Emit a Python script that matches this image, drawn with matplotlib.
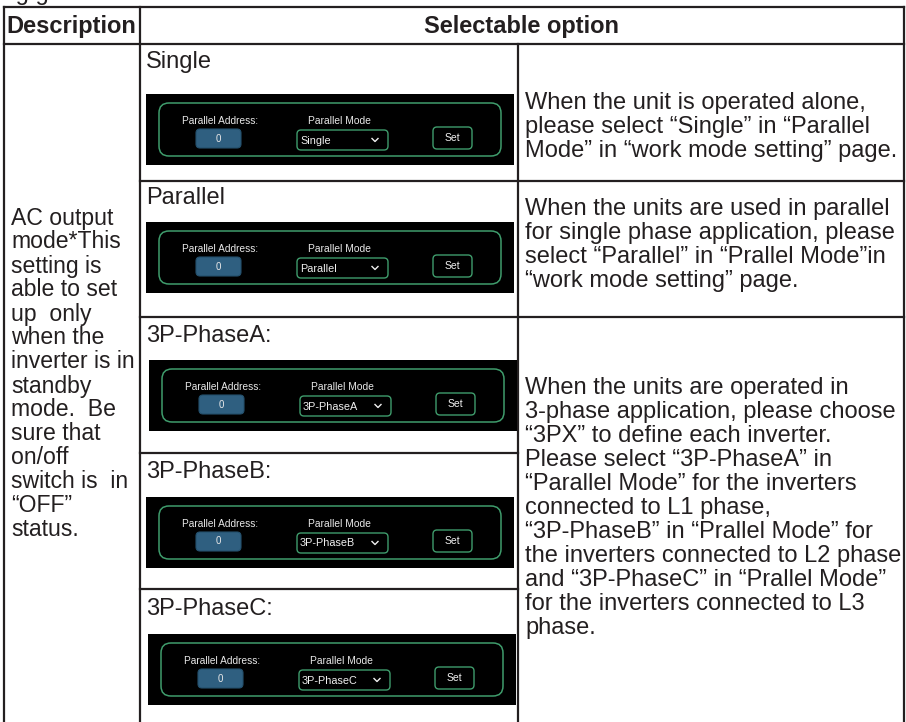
import matplotlib
matplotlib.use("Agg")
import matplotlib.pyplot as plt
from matplotlib.patches import FancyBboxPatch, Rectangle

# ---------------- data ----------------
header_left = "Description"
header_right = "Selectable option"
top_partial = "Setting guide"

desc_lines = ["AC output", "mode*This", "setting is", "able to set", "up  only",
              "when the", "inverter is in", "standby", "mode.  Be",
              "sure that", "on/off", "switch is  in", "\u201cOFF\u201d", "status."]

option_labels = ["Single", "Parallel", "3P-PhaseA:", "3P-PhaseB:", "3P-PhaseC:"]
mode_values = ["Single", "Parallel", "3P-PhaseA", "3P-PhaseB", "3P-PhaseC"]
address_values = ["0", "0", "0", "0", "0"]
widget_address_label = "Parallel Address:"
widget_mode_label = "Parallel Mode"
widget_button = "Set"

note_single = ["When the unit is operated alone,",
               "please select \u201cSingle\u201d in \u201cParallel",
               "Mode\u201d in \u201cwork mode setting\u201d page."]
note_parallel = ["When the units are used in parallel",
                 "for single phase application, please",
                 "select \u201cParallel\u201d in \u201cPrallel Mode\u201din",
                 "\u201cwork mode setting\u201d page."]
note_3phase = ["When the units are operated in",
               "3-phase application, please choose",
               "\u201c3PX\u201d to define each inverter.",
               "Please select \u201c3P-PhaseA\u201d in",
               "\u201cParallel Mode\u201d for the inverters",
               "connected to L1 phase,",
               "\u201c3P-PhaseB\u201d in \u201cPrallel Mode\u201d for",
               "the inverters connected to L2 phase",
               "and \u201c3P-PhaseC\u201d in \u201cPrallel Mode\u201d",
               "for the inverters connected to L3",
               "phase."]

# ---------------- layout ----------------
W, H = 906, 722
FONT = "Liberation Sans"
TXT = "#231f20"
LINE = "#231f20"
GREEN = "#3f9c6c"
BLUE = "#2f5f80"
FS = 17.0
FS_DESC = 16.6
LH = 24.0

fig = plt.figure(figsize=(W / 100, H / 100), dpi=100)
ax = fig.add_axes([0, 0, 1, 1])
ax.set_xlim(0, W)
ax.set_ylim(H, 0)
ax.axis("off")

x_left, x_desc, x_mid, x_right = 4, 140, 518, 904
y_top, y_head = 7, 44
row_lines = [181, 317, 453, 589]
lw = 1.6

# table grid
ax.plot([x_left, x_right], [y_top, y_top], color=LINE, lw=lw, solid_capstyle="projecting")
ax.plot([x_left, x_right], [y_head, y_head], color=LINE, lw=lw)
ax.plot([x_left, x_left], [y_top, H + 5], color=LINE, lw=lw)
ax.plot([x_desc, x_desc], [y_top, H + 5], color=LINE, lw=lw)
ax.plot([x_right, x_right], [y_top, H + 5], color=LINE, lw=lw)
ax.plot([x_mid, x_mid], [y_head, H + 5], color=LINE, lw=lw)
for i, yl in enumerate(row_lines):
    xe = x_right if i < 2 else x_mid
    ax.plot([x_desc, xe], [yl, yl], color=LINE, lw=lw)

# partial text at very top (cut off by the page edge in the reference)
ax.text(-45, 0, top_partial, fontsize=FS, family=FONT, color=TXT, va="baseline")

# header
ax.text(6, (y_top + y_head) / 2 + 1, header_left, fontsize=FS, family=FONT,
        weight="bold", color=TXT, va="center", ha="left")
ax.text((x_desc + x_right) / 2, (y_top + y_head) / 2 + 1, header_right, fontsize=FS,
        family=FONT, weight="bold", color=TXT, va="center", ha="center")

# description column
for i, s in enumerate(desc_lines):
    ax.text(11, 218 + i * LH, s, fontsize=FS_DESC, family=FONT, color=TXT, va="center")

# option labels and widget panels
label_y = [62, 198, 336, 472, 609]
panel_top = [94, 222, 360, 497, 634]
panel_x0 = [146, 146, 149, 146, 148]


def widget(x0, y0, mode, addr):
    pw, ph = 368, 71
    ax.add_patch(Rectangle((x0, y0), pw, ph, facecolor="black", edgecolor="none", zorder=2))
    ix0, iy0 = x0 + 13, y0 + 9
    iw, ih = 342, 53
    ax.add_patch(FancyBboxPatch((ix0, iy0), iw, ih, boxstyle="round,pad=0,rounding_size=10",
                                facecolor="black", edgecolor=GREEN, lw=1.1, zorder=3))
    # address
    ax.text(x0 + 74, y0 + 27, widget_address_label, fontsize=7.3, family=FONT,
            color="#e8e8e8", ha="center", va="center", zorder=4)
    ax.add_patch(FancyBboxPatch((x0 + 50, y0 + 35), 45, 19, boxstyle="round,pad=0,rounding_size=4",
                                facecolor=BLUE, edgecolor="#24506c", lw=0.8, zorder=4))
    ax.text(x0 + 72.5, y0 + 44.5, addr, fontsize=7.0, family=FONT, color="#e8e8e8",
            ha="center", va="center", zorder=5)
    # mode
    ax.text(x0 + 193, y0 + 27, widget_mode_label, fontsize=7.4, family=FONT,
            color="#e8e8e8", ha="center", va="center", zorder=4)
    ax.add_patch(FancyBboxPatch((x0 + 151, y0 + 36), 91, 20, boxstyle="round,pad=0,rounding_size=4",
                                facecolor="black", edgecolor=GREEN, lw=1.0, zorder=4))
    ax.text(x0 + 154, y0 + 46.5, mode, fontsize=7.8, family=FONT, color="#f0f0f0",
            ha="left", va="center", zorder=5)
    cx, cy = x0 + 229, y0 + 46
    ax.plot([cx - 3, cx, cx + 3], [cy - 1.5, cy + 1.5, cy - 1.5], color="#f0f0f0", lw=1.0, zorder=5)
    # set button
    ax.add_patch(FancyBboxPatch((x0 + 287, y0 + 33), 39, 22, boxstyle="round,pad=0,rounding_size=4",
                                facecolor="black", edgecolor=GREEN, lw=1.0, zorder=4))
    ax.text(x0 + 306.5, y0 + 44, widget_button, fontsize=7.5, family=FONT, color="#f0f0f0",
            ha="center", va="center", zorder=5)


for lab, ly, pt, px, m, a in zip(option_labels, label_y, panel_top, panel_x0, mode_values, address_values):
    ax.text(146, ly, lab, fontsize=FS, family=FONT, color=TXT, va="center")
    widget(px, pt, m, a)

# notes column
for start, lines in [(103, note_single), (209, note_parallel), (388, note_3phase)]:
    for i, s in enumerate(lines):
        ax.text(525, start + i * LH, s, fontsize=FS, family=FONT, color=TXT, va="center")

fig.savefig("out.png", dpi=100, facecolor="white")
